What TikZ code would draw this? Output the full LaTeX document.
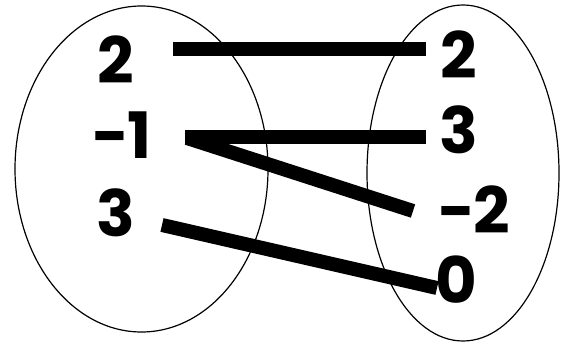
\documentclass[tikz,border=0pt]{standalone}
\usepackage{fontspec}
\setmainfont{Poppins}[BoldFont={* Bold}]
\begin{document}
\begin{tikzpicture}[x=1pt,y=-1pt,
  num/.style={font=\fontsize{64}{64}\selectfont\bfseries, inner sep=0pt, anchor=center},
  oval/.style={draw=black, line width=1.2pt},
  link/.style={line width=14pt, line cap=butt}]
\useasboundingbox (0,0) rectangle (561,342);
\draw[oval] (141.5,169) ellipse [x radius=126.5, y radius=163];
\draw[oval] (463,173) ellipse [x radius=96, y radius=168];
\node[num] (L2) at (116,60) {2};
\node[num] (Lm1) at (122,135) {\char"2212 1};
\node[num] (L3) at (116,213) {3};
\node[num] (R2) at (459,55) {2};
\node[num] (R3) at (459,130) {3};
\node[num] (Rm2) at (474,210) {\char"2212 2};
\node[num] (R0) at (456,280) {0};
\coordinate (a1) at (173,49.5);
\coordinate (b1) at (426,49.5);
\coordinate (a2) at (185,137);
\coordinate (b2) at (426,137);
\coordinate (a3) at (187,138);
\coordinate (b3) at (413,211);
\coordinate (a4) at (162,225);
\coordinate (b4) at (437,288);
\draw[link] (a1) -- (b1);
\draw[link] (a2) -- (b2);
\draw[link] (a3) -- (b3);
\draw[link] (a4) -- (b4);
\end{tikzpicture}
\end{document}
